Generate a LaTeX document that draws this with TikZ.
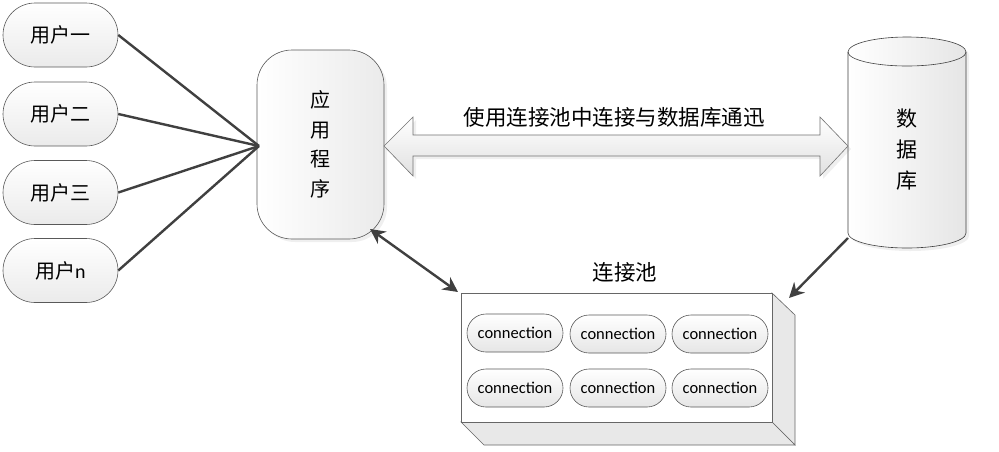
\documentclass[tikz,border=0pt]{standalone}
\usepackage{fontspec}
\setmainfont{Carlito}
\newfontfamily\cjk{Noto Sans CJK SC}[Scale=1]
\usetikzlibrary{shapes.misc,arrows.meta,shadows}
\tikzset{
  edgeline/.style={draw=black!75, line width=2.4pt},
  tipline/.style={draw=black!75, line width=2.4pt, {Stealth[length=15pt,width=15pt]}-{Stealth[length=15pt,width=15pt]}},
  onetip/.style={draw=black!75, line width=2.4pt, -{Stealth[length=15pt,width=15pt]}},
  usernode/.style={rounded rectangle, draw=black!65, line width=0.6pt, top color=white, bottom color=black!8,
     minimum width=115pt, minimum height=64pt, inner sep=0pt, font=\fontsize{20}{24}\selectfont},
  connnode/.style={rounded rectangle, draw=black!65, line width=0.6pt, top color=white, bottom color=black!10,
     minimum width=96pt, minimum height=38pt, inner sep=0pt, font=\fontsize{16.5}{19}\selectfont},
  softshadow/.style={drop shadow={opacity=0.12, shadow xshift=3pt, shadow yshift=-3pt}},
}
\begin{document}
\begin{tikzpicture}[x=1pt,y=1pt]
\useasboundingbox (0,0) rectangle (999,-451);
\fill[white] (0,0) rectangle (999,-451);

% users
\node[usernode] (u1) at (60.5,-35) {\cjk 用户一};
\node[usernode] (u2) at (60.5,-114) {\cjk 用户二};
\node[usernode] (u3) at (60.5,-192.5) {\cjk 用户三};
\node[usernode] (un) at (60.5,-270.5) {\cjk 用户\fontspec{Carlito}n};

% application
\node[rounded corners=35pt, draw=black!65, line width=0.6pt, left color=white, right color=black!8,
      minimum width=127pt, minimum height=189pt, inner sep=0pt, softshadow,
      font=\fontsize{20}{29.5}\selectfont, align=center] (app) at (320.5,-144.5)
      {\cjk 应\\\cjk 用\\\cjk 程\\\cjk 序};

\coordinate (hub) at (259,-146);
\draw[edgeline] (u1.east) -- (hub);
\draw[edgeline] (u2.east) -- (hub);
\draw[edgeline] (u3.east) -- (hub);
\draw[edgeline] (un.east) -- (hub);

% database cylinder
\path[draw=black!75, line width=0.6pt, left color=white, right color=black!10, softshadow]
  (848,-52) -- (848,-233) arc[start angle=180, end angle=360, x radius=59pt, y radius=15pt]
  -- (966,-52) arc[start angle=0, end angle=180, x radius=59pt, y radius=15pt] -- cycle;
\draw[black!75, line width=0.6pt] (848,-52) arc[start angle=180, end angle=360, x radius=59pt, y radius=14pt];
\node[font=\fontsize{21}{31}\selectfont, align=center, inner sep=0pt] (db) at (907,-150) {\cjk 数\\\cjk 据\\\cjk 库};
\coordinate (dbcorner) at (848,-238);

% double block arrow
\path[draw=black!55, line width=0.6pt, top color=white, bottom color=black!12, softshadow]
  (384,-146) -- (413,-117) -- (413,-135) -- (820,-135) -- (820,-117) -- (848,-146)
  -- (820,-176) -- (820,-156) -- (413,-156) -- (413,-176) -- cycle;
\node[font=\fontsize{21.5}{24}\selectfont, inner sep=0pt] (msg) at (614,-117) {\cjk 使用连接池中连接与数据库通迅};

% pool box
\path[draw=black!60, line width=0.6pt, fill=black!9] (772,-293) -- (795,-315) -- (795,-445) -- (772,-422) -- cycle;
\path[draw=black!60, line width=0.6pt, fill=black!9] (461,-422) -- (772,-422) -- (795,-445) -- (484,-445) -- cycle;
\node[draw=black!60, line width=0.6pt, fill=white, minimum width=311pt, minimum height=129pt, inner sep=0pt] (pool) at (616.5,-357.5) {};
\node[font=\fontsize{21.5}{24}\selectfont, inner sep=0pt] (pooltitle) at (625,-272) {\cjk 连接池};

\node[connnode] (c1) at (515,-333) {connection};
\node[connnode] (c2) at (618,-334) {connection};
\node[connnode] (c3) at (720,-334) {connection};
\node[connnode] (c4) at (515,-388) {connection};
\node[connnode] (c5) at (618,-388) {connection};
\node[connnode] (c6) at (720,-388) {connection};

% connectors
\coordinate (appbr) at (370,-229);
\coordinate (pooltl) at (458,-292);
\draw[tipline] (appbr) -- (pooltl);
\coordinate (pooltr) at (789,-298);
\draw[onetip] (dbcorner) -- (pooltr);
\end{tikzpicture}
\end{document}
